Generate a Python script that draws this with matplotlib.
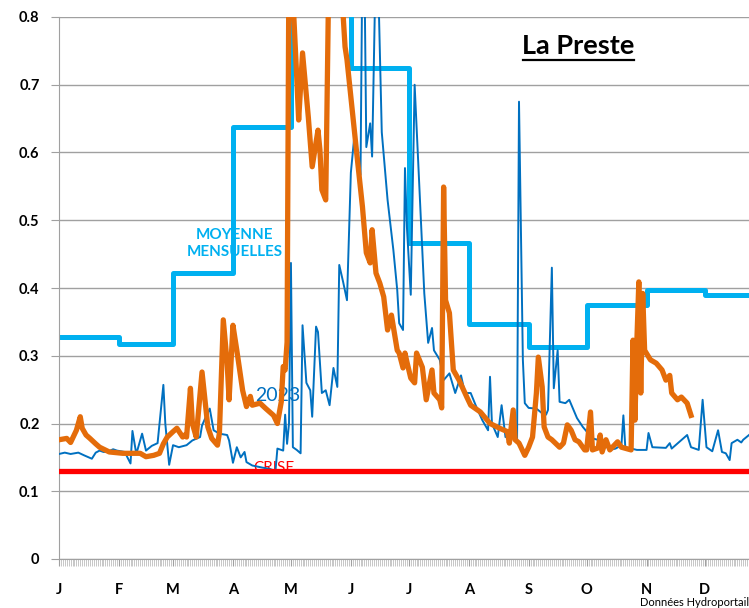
import matplotlib.pyplot as plt
import numpy as np

plt.rcParams['font.family'] = ['Lato', 'DejaVu Sans']

# mois (debut en jour de l'annee) et etiquettes
month_start = [0, 31, 59, 90, 120, 151, 181, 212, 243, 273, 304, 334]
month_labels = ['J', 'F', 'M', 'A', 'M', 'J', 'J', 'A', 'S', 'O', 'N', 'D']

# moyennes mensuelles (m3/s)
monthly_mean = [0.328, 0.317, 0.422, 0.638, 1.10, 0.724, 0.466, 0.347, 0.313, 0.375, 0.397, 0.390]

# debits 2023 (jour, valeur)
days_2023 = [0, 3, 6, 10, 13, 17, 19, 21, 23, 25, 28, 30, 34, 37, 38, 40, 43, 45, 48, 51,
             52, 54, 55, 57, 59, 62, 66, 69, 73, 74, 76, 78, 80, 83, 87, 88, 90, 92, 94, 96,
             97, 100, 105, 109, 112, 113, 116, 117, 118, 119, 120, 121, 123, 125, 126, 128,
             130, 131, 133, 134, 136, 138, 140, 142, 144, 145, 147, 149, 151, 153, 156, 157,
             158, 159, 161, 162, 164, 165, 167, 170, 173, 175, 176, 178, 179, 180, 182, 184,
             187, 189, 191, 193, 194, 197, 199, 202, 205, 208, 210, 213, 216, 219, 222, 223,
             224, 227, 229, 231, 235, 237, 238, 240, 241, 243, 247, 250, 252, 253, 255, 256,
             258, 259, 262, 264, 268, 271, 276, 280, 285, 288, 291, 292, 293, 299, 304, 305,
             307, 314, 316, 317, 325, 327, 331, 333, 335, 338, 341, 343, 345, 347, 348, 351,
             353, 354, 357]
flow_2023 = [0.155, 0.157, 0.155, 0.157, 0.153, 0.148, 0.157, 0.160, 0.158, 0.158, 0.162, 0.160,
             0.158, 0.141, 0.189, 0.155, 0.185, 0.160, 0.167, 0.171, 0.200, 0.257, 0.200, 0.139,
             0.168, 0.165, 0.168, 0.175, 0.180, 0.197, 0.210, 0.222, 0.190, 0.185, 0.183, 0.175,
             0.142, 0.165, 0.150, 0.158, 0.143, 0.138, 0.135, 0.133, 0.130, 0.163, 0.160, 0.213,
             0.170, 0.200, 0.437, 0.165, 0.161, 0.156, 0.345, 0.260, 0.249, 0.210, 0.343, 0.335,
             0.245, 0.249, 0.227, 0.282, 0.254, 0.434, 0.409, 0.382, 0.570, 0.630, 0.567, 0.900,
             0.880, 0.608, 0.643, 0.594, 0.900, 0.870, 0.630, 0.530, 0.456, 0.397, 0.348, 0.338,
             0.577, 0.490, 0.390, 0.700, 0.515, 0.392, 0.319, 0.341, 0.308, 0.294, 0.264, 0.274,
             0.245, 0.271, 0.245, 0.245, 0.224, 0.205, 0.190, 0.269, 0.200, 0.180, 0.227, 0.180,
             0.186, 0.176, 0.675, 0.294, 0.230, 0.223, 0.222, 0.215, 0.213, 0.220, 0.430, 0.252,
             0.308, 0.232, 0.230, 0.235, 0.208, 0.195, 0.178, 0.175, 0.161, 0.163, 0.168, 0.212,
             0.165, 0.161, 0.161, 0.186, 0.165, 0.164, 0.171, 0.163, 0.183, 0.165, 0.161, 0.235,
             0.165, 0.159, 0.190, 0.158, 0.156, 0.146, 0.171, 0.176, 0.172, 0.176, 0.183]

# debits annee en cours (jour, valeur)
days_now = [0, 4, 6, 7, 9, 11, 12, 14, 16, 19, 21, 26, 33, 42, 45, 49, 52, 54, 56, 59, 61, 64,
            65, 66, 68, 69, 71, 74, 75, 77, 79, 82, 83, 85, 87, 88, 90, 92, 95, 97, 99, 100, 104,
            107, 111, 113, 115, 116, 117, 118, 119, 120, 121, 123, 124, 126, 129, 131, 134, 135,
            136, 138, 140, 142, 144, 146, 148, 149, 151, 154, 157, 159, 161, 162, 164, 166, 168,
            170, 172, 175, 176, 178, 179, 180, 182, 184, 185, 188, 190, 193, 194, 197, 198, 199,
            200, 202, 204, 207, 211, 213, 218, 223, 228, 232, 233, 235, 236, 238, 241, 243, 245,
            247, 248, 250, 251, 253, 255, 259, 261, 263, 265, 267, 269, 272, 273, 275, 276, 279,
            280, 281, 283, 285, 289, 291, 296, 297, 298, 299, 300, 301, 302, 303, 306, 309, 312,
            314, 316, 317, 320, 322, 325, 327]
flow_now = [0.176, 0.178, 0.172, 0.178, 0.190, 0.210, 0.193, 0.183, 0.178, 0.170, 0.165, 0.158,
            0.156, 0.156, 0.151, 0.153, 0.156, 0.170, 0.180, 0.188, 0.193, 0.180, 0.183, 0.180,
            0.252, 0.200, 0.180, 0.276, 0.249, 0.195, 0.178, 0.168, 0.186, 0.353, 0.289, 0.235,
            0.345, 0.308, 0.249, 0.225, 0.240, 0.227, 0.230, 0.222, 0.212, 0.200, 0.232, 0.284,
            0.279, 0.320, 0.900, 1.000, 0.830, 0.711, 0.648, 0.747, 0.652, 0.579, 0.633, 0.604,
            0.545, 0.530, 0.950, 1.150, 1.050, 0.850, 0.756, 0.737, 0.682, 0.600, 0.520, 0.452,
            0.437, 0.486, 0.422, 0.407, 0.387, 0.338, 0.360, 0.308, 0.304, 0.282, 0.304, 0.291,
            0.267, 0.260, 0.304, 0.283, 0.235, 0.279, 0.245, 0.235, 0.223, 0.549, 0.382, 0.363,
            0.279, 0.264, 0.239, 0.227, 0.217, 0.200, 0.193, 0.188, 0.171, 0.220, 0.176, 0.171,
            0.153, 0.165, 0.180, 0.245, 0.298, 0.254, 0.195, 0.180, 0.176, 0.165, 0.171, 0.198,
            0.190, 0.176, 0.173, 0.161, 0.161, 0.217, 0.161, 0.164, 0.183, 0.158, 0.176, 0.161,
            0.173, 0.165, 0.161, 0.323, 0.205, 0.323, 0.409, 0.245, 0.392, 0.308, 0.294, 0.289,
            0.279, 0.264, 0.271, 0.245, 0.235, 0.239, 0.230, 0.212]

crise = 0.13

fig = plt.figure(figsize=(7.49, 6.08), dpi=100)
ax = fig.add_axes([59 / 749, 1 - 559 / 608, 1 - 59 / 749, (559 - 17) / 608])

# moyennes mensuelles en escalier
step_x = month_start + [366]
step_y = monthly_mean + [monthly_mean[-1]]
ax.step(step_x, step_y, where='post', color='#00B0F0', lw=3.6, zorder=2)

ax.plot(days_2023, flow_2023, color='#0070C0', lw=1.4, zorder=3)
ax.plot(days_now, flow_now, color='#E46C0A', lw=3.8, zorder=4, solid_joinstyle='round')
ax.axhline(crise, color='#FF0000', lw=3.8, zorder=5)

ax.set_xlim(0, 357)
ax.set_ylim(0, 0.8)
ax.set_yticks(np.arange(0, 0.81, 0.1))
ax.set_yticklabels(['0'] + ['%.1f' % v for v in np.arange(0.1, 0.81, 0.1)], fontweight='bold', fontsize=10.5)
ax.set_xticks(month_start)
ax.set_xticklabels(month_labels, fontweight='bold', fontsize=10.5)
ax.set_xticks(np.arange(0, 358), minor=True)
ax.tick_params(axis='x', which='major', length=5, color='#A0A0A0', pad=12)
ax.tick_params(axis='x', which='minor', length=5, color='#B0B0B0', width=0.5)
ax.tick_params(axis='y', length=6, color='#A0A0A0', pad=8)

ax.grid(axis='y', color='#A0A0A0', lw=1)
ax.set_axisbelow(True)
for s in ['top', 'right']:
    ax.spines[s].set_visible(False)
ax.spines['left'].set_color('#A0A0A0')
ax.spines['bottom'].set_color('#A0A0A0')

ax.text(268.5, 0.757, 'La Preste', fontsize=19.5, fontweight='bold', ha='center', va='center', zorder=6)
ax.plot([240, 297.5], [0.737, 0.737], color='black', lw=1.6, zorder=6, clip_on=False)

ax.text(91, 0.466, 'MOYENNE\nMENSUELLES', color='#00B0F0', fontsize=11, fontweight='bold',
        ha='center', va='center', linespacing=1.3, zorder=6)
ax.text(113, 0.241, '2023', color='#0070C0', fontsize=14, ha='center', va='center', zorder=3)
ax.text(111, 0.135, 'CRISE', color='#FF0000', fontsize=11, ha='center', va='center', zorder=1)

fig.text(640 / 749, 1 - 603 / 608, 'Données Hydroportail', fontsize=8, va='center', ha='left')

plt.savefig('out.png', dpi=100)
